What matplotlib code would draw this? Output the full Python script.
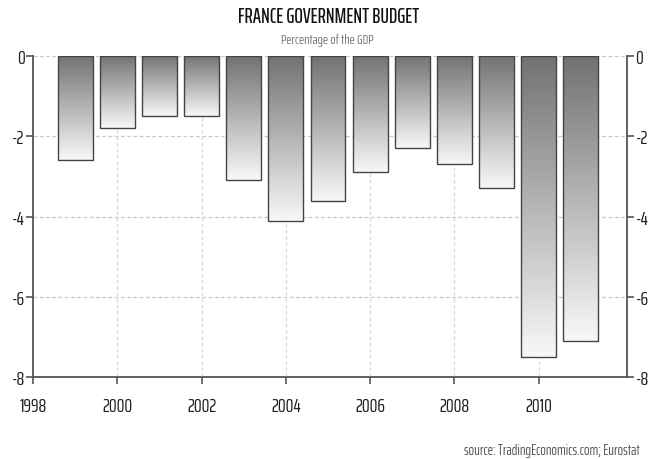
import numpy as np
import matplotlib.pyplot as plt
from matplotlib.colors import LinearSegmentedColormap

# France government budget balance, % of GDP
years = [1999, 2000, 2001, 2002, 2003, 2004, 2005, 2006, 2007, 2008, 2009, 2010, 2011]
values = [-2.6, -1.8, -1.5, -1.5, -3.1, -4.1, -3.6, -2.9, -2.3, -2.7, -3.3, -7.5, -7.1]
xticks = [1998, 2000, 2002, 2004, 2006, 2008, 2010]
yticks = [0, -2, -4, -6, -8]

narrow = ['Saira ExtraCondensed', 'PT Sans Narrow', 'DejaVu Sans']
plt.rcParams['axes.unicode_minus'] = False
plt.rcParams['font.family'] = narrow

fig = plt.figure(figsize=(6.58, 4.60), dpi=100)
ax = fig.add_axes([0.0502, 0.178, 0.903, 0.698])

# grey gradient for the bars, dark on top, near white at the bottom
cmap = LinearSegmentedColormap.from_list('bargrad', ['#727272', '#f8f8f8'])
grad = np.linspace(0, 1, 256).reshape(-1, 1)
w = 0.83
for x, v in zip(years, values):
    ax.imshow(grad, cmap=cmap, aspect='auto', extent=[x - w / 2, x + w / 2, v, 0],
              origin='upper', zorder=2)
ax.bar(years, values, width=w, facecolor='none', edgecolor='#444444', linewidth=1.0, zorder=3)

ax.set_xlim(1998, 2012.1)
ax.set_ylim(-8, 0)

# dashed grid
for y in yticks[:-1]:
    ax.axhline(y, color='#c8c8c8', linestyle=(0, (3, 2)), linewidth=0.9, zorder=1)
for x in xticks[1:]:
    ax.axvline(x, color='#d8d8d8', linestyle=(0, (3, 2)), linewidth=0.9, zorder=1)

ax.spines['top'].set_visible(False)
for s in ['left', 'right', 'bottom']:
    ax.spines[s].set_color('#555555')
    ax.spines[s].set_linewidth(1.3)

ax.set_xticks(xticks)
ax.set_yticks(yticks)
ax.tick_params(axis='both', direction='out', length=5, width=1.2, color='#555555',
               labelcolor='#222222')
ax.tick_params(axis='y', left=True, right=True, labelleft=True, labelright=True,
               pad=1, labelsize=14)
ax.tick_params(axis='x', pad=9, labelsize=14)

fig.text(0.499, 0.963, 'FRANCE GOVERNMENT BUDGET', ha='center', va='center',
         fontsize=14.5, fontweight='medium', color='#111111')
fig.text(0.498, 0.913, 'Percentage of the GDP', ha='center', va='center',
         fontsize=10, color='#777777')
fig.text(0.972, 0.02, 'source: TradingEconomics.com; Eurostat', ha='right', va='center',
         fontsize=10.5, color='#555555')

fig.savefig('out.png', dpi=100)
